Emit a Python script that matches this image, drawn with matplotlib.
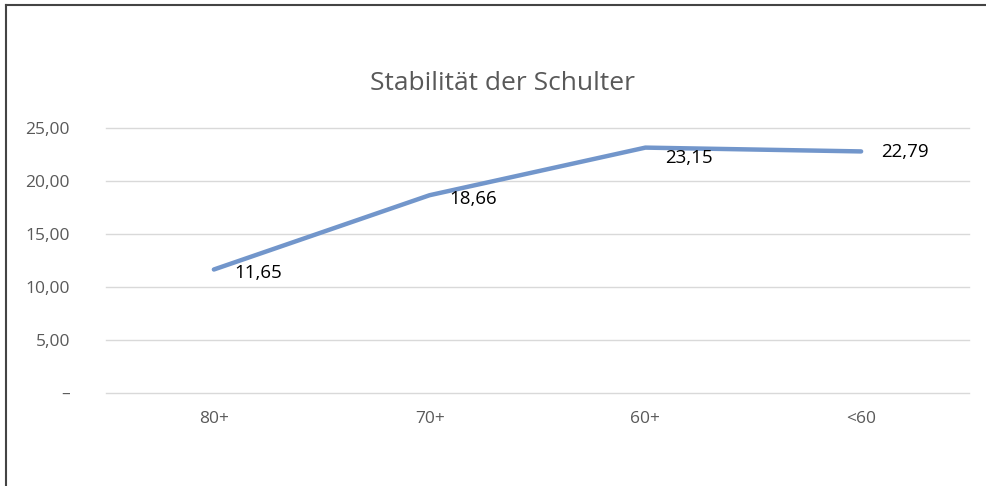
import matplotlib
matplotlib.use('Agg')
import matplotlib.pyplot as plt
from matplotlib.lines import Line2D

categories = ['80+', '70+', '60+', '<60']
values = [11.65, 18.66, 23.15, 22.79]
y_ticks = [0, 5, 10, 15, 20, 25]
y_tick_labels = ['–', '5,00', '10,00', '15,00', '20,00', '25,00']
label_dy = [-3, -4, -10, -1]

plt.rcParams['font.family'] = ['Open Sans', 'DejaVu Sans']

fig = plt.figure(figsize=(9.86, 4.86), dpi=100)
ax = fig.add_axes([106 / 986, 1 - 393 / 486, 863 / 986, 265 / 486])

x = list(range(len(categories)))
ax.plot(x, values, color='#7296CB', linewidth=3.2, solid_capstyle='round')

for i, v in enumerate(values):
    ax.annotate(f'{v:.2f}'.replace('.', ','), (x[i], v), xytext=(20, label_dy[i]),
                textcoords='offset pixels', ha='left', va='center',
                fontsize=13.5, color='black')

ax.set_xlim(-0.5, len(categories) - 0.5)
ax.set_ylim(0, 25)
ax.set_xticks(x)
ax.set_xticklabels(categories)
ax.set_yticks(y_ticks)
ax.set_yticklabels(y_tick_labels)
ax.tick_params(length=0, labelsize=12.5, labelcolor='#595959')
ax.tick_params(axis='y', pad=26)
ax.tick_params(axis='x', pad=13)
ax.grid(axis='y', color='#D9D9D9', linewidth=1)
for gl in ax.get_ygridlines():
    gl.set_clip_on(False)
ax.set_axisbelow(True)
for s in ax.spines.values():
    s.set_visible(False)

fig.text(503 / 986, 1 - 83 / 486, 'Stabilität der Schulter', ha='center', va='center',
         fontsize=19, color='#595959')

# outer frame (left and top edges)
fig.add_artist(Line2D([5.5 / 986, 5.5 / 986], [0, 1 - 5.5 / 486], color='#444444', linewidth=1.5))
fig.add_artist(Line2D([5.5 / 986, 1], [1 - 5.5 / 486, 1 - 5.5 / 486], color='#444444', linewidth=1.5))

fig.savefig('out.png', dpi=100)
